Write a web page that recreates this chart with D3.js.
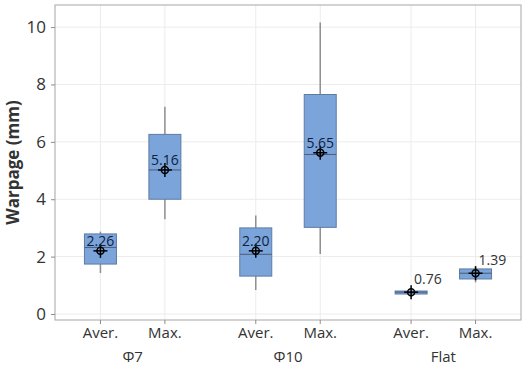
<!DOCTYPE html>
<html lang="en">
<head>
<meta charset="UTF-8">
<title>Warpage boxplot</title>
<script src="https://d3js.org/d3.v7.min.js"></script>
<style>
    body { margin: 0; background: #fff; font-family: 'Open Sans', 'Noto Sans', sans-serif; }
    .grid line { stroke: #ececec; stroke-width: 1; }
    .axis path { display: none; }
    .axis line { stroke: #8c8c8c; }
    .axis text { fill: #333; }
</style>
</head>
<body>
<div id="chart"></div>
<script>
// groups and the two series inside each group
const groups = ["\u03a67", "\u03a610", "Flat"];
const items = ["Aver.", "Max."];

// box stats, in the order Φ7 Aver, Φ7 Max, Φ10 Aver, Φ10 Max, Flat Aver, Flat Max
const whiskerLow  = [1.43, 3.30, 0.84, 2.09, 0.70, 1.10];
const q1          = [1.74, 4.00, 1.32, 3.02, 0.70, 1.22];
const median      = [2.32, 5.02, 2.08, 5.56, 0.76, 1.42];
const q3          = [2.79, 6.26, 3.00, 7.65, 0.80, 1.57];
const whiskerHigh = [2.87, 7.22, 3.43, 10.16, 0.82, 1.67];
const meanValue   = [2.20, 5.02, 2.20, 5.62, 0.76, 1.42];
const meanLabels  = ["2.26", "5.16", "2.20", "5.65", "0.76", "1.39"];
const yTicks = [0, 2, 4, 6, 8, 10];

const w = 525, h = 370;
const m = { left: 55, right: 4, top: 5, bottom: 50 };

const boxes = [];
groups.forEach((g, gi) => {
    items.forEach((it, ii) => {
        const k = gi * items.length + ii;
        boxes.push({ group: g, item: it, lo: whiskerLow[k], q1: q1[k], med: median[k],
                     q3: q3[k], hi: whiskerHigh[k], mean: meanValue[k], label: meanLabels[k] });
    });
});

const svg = d3.select("#chart").append("svg")
    .attr("width", w)
    .attr("height", h);

const x0 = d3.scaleBand()
    .domain(groups)
    .range([m.left, w - m.right])
    .padding(0);
const x1 = d3.scaleBand()
    .domain(items)
    .range([0, x0.bandwidth()])
    .paddingInner(0.55)
    .paddingOuter(0.48);
const y = d3.scaleLinear()
    .domain([-0.21, 10.77])
    .range([h - m.bottom, m.top]);

const cx = d => x0(d.group) + x1(d.item) + x1.bandwidth() / 2;
const boxW = 32;

// grid
const grid = svg.append("g").attr("class", "grid");
grid.selectAll(".hg").data(yTicks).enter().append("line")
    .attr("x1", m.left).attr("x2", w - m.right)
    .attr("y1", d => y(d)).attr("y2", d => y(d));
grid.selectAll(".vg").data(boxes).enter().append("line")
    .attr("x1", cx).attr("x2", cx)
    .attr("y1", m.top).attr("y2", h - m.bottom);

// frame
svg.append("rect")
    .attr("x", m.left).attr("y", m.top)
    .attr("width", w - m.left - m.right)
    .attr("height", h - m.top - m.bottom)
    .attr("fill", "none")
    .attr("stroke", "#a6a6a6");

// y axis
const yAxis = d3.axisLeft(y).tickValues(yTicks).tickSize(4).tickPadding(5);
svg.append("g")
    .attr("class", "axis")
    .attr("transform", "translate(" + m.left + ",0)")
    .call(yAxis)
    .style("font-size", "17px")
    .style("font-family", "'Open Sans', 'Noto Sans', sans-serif");

// x ticks + labels
const xa = svg.append("g").attr("class", "axis");
xa.selectAll(".xt").data(boxes).enter().append("line")
    .attr("x1", cx).attr("x2", cx)
    .attr("y1", h - m.bottom).attr("y2", h - m.bottom + 4)
    .attr("stroke", "#8c8c8c");
xa.selectAll(".xl").data(boxes).enter().append("text")
    .attr("x", cx)
    .attr("y", h - m.bottom + 18)
    .attr("text-anchor", "middle")
    .style("font-size", "15px")
    .text(d => d.item);
xa.selectAll(".gl").data(groups).enter().append("text")
    .attr("x", d => x0(d) + x0.bandwidth() / 2)
    .attr("y", h - m.bottom + 42)
    .attr("text-anchor", "middle")
    .style("font-size", "15px")
    .text(d => d);

// axis title
svg.append("text")
    .attr("transform", "translate(19," + ((m.top + h - m.bottom) / 2) + ") rotate(-90)")
    .attr("text-anchor", "middle")
    .style("font-size", "17px")
    .style("font-weight", "bold")
    .attr("fill", "#333")
    .text("Warpage (mm)");

// boxes
const b = svg.selectAll(".box").data(boxes).enter().append("g");
b.append("line")
    .attr("x1", cx).attr("x2", cx)
    .attr("y1", d => y(d.lo)).attr("y2", d => y(d.hi))
    .attr("stroke", "#8f8f8f").attr("stroke-width", 1.5);
b.append("rect")
    .attr("x", d => cx(d) - boxW / 2)
    .attr("y", d => y(d.q3))
    .attr("width", boxW)
    .attr("height", d => Math.max(3, y(d.q1) - y(d.q3)))
    .attr("fill", "#7ba5da")
    .attr("stroke", "#5e7aa3")
    .attr("stroke-width", 1);
b.append("line")
    .attr("x1", d => cx(d) - boxW / 2).attr("x2", d => cx(d) + boxW / 2)
    .attr("y1", d => y(d.med)).attr("y2", d => y(d.med))
    .attr("stroke", "#4b5c78").attr("stroke-width", 1);

// mean symbol: circle with cross
b.append("circle")
    .attr("cx", cx).attr("cy", d => y(d.mean))
    .attr("r", 3.5)
    .attr("fill", "none").attr("stroke", "#000").attr("stroke-width", 1.5);
b.append("line")
    .attr("x1", d => cx(d) - 7).attr("x2", d => cx(d) + 7)
    .attr("y1", d => y(d.mean)).attr("y2", d => y(d.mean))
    .attr("stroke", "#000").attr("stroke-width", 1.5);
b.append("line")
    .attr("x1", cx).attr("x2", cx)
    .attr("y1", d => y(d.mean) - 7).attr("y2", d => y(d.mean) + 7)
    .attr("stroke", "#000").attr("stroke-width", 1.5);

// mean labels: inside the box when there is room, else up and right
const roomy = d => y(d.q1) - y(d.q3) > 20;
b.append("text")
    .attr("x", d => roomy(d) ? cx(d) : cx(d) + 3)
    .attr("y", d => roomy(d) ? y(d.mean) - 5 : y(d.mean) - 8)
    .attr("text-anchor", d => roomy(d) ? "middle" : "start")
    .style("font-size", "14px")
    .attr("fill", d => roomy(d) ? "#10213f" : "#333")
    .text(d => d.label);
</script>
</body>
</html>
